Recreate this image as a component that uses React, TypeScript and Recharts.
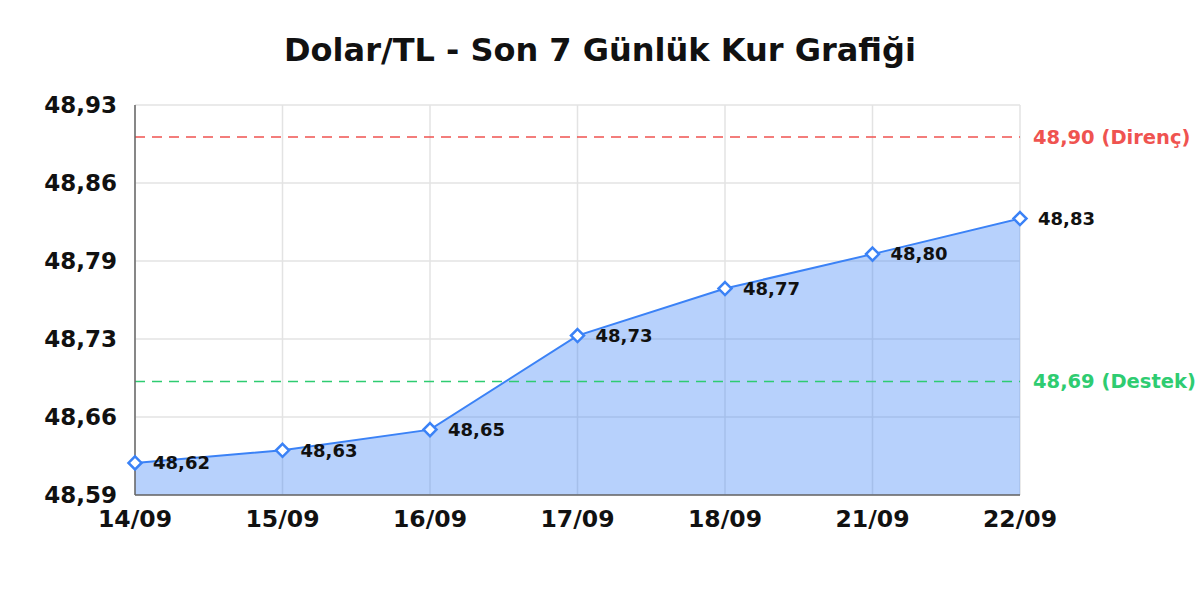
// Dolar/TL 7-day exchange rate chart with resistance/support lines.
import {
  Area,
  AreaChart,
  CartesianGrid,
  LabelList,
  ReferenceLine,
  XAxis,
  YAxis,
} from 'recharts'

const dates = ['14/09', '15/09', '16/09', '17/09', '18/09', '21/09', '22/09']
const rates = [48.618, 48.629, 48.647, 48.729, 48.77, 48.8, 48.831]
const yTicks = [48.59, 48.658, 48.726, 48.794, 48.862, 48.93]
const resistance = 48.902
const support = 48.689

const FONT = '"DejaVu Sans", sans-serif'
const BLUE = '#3b82f6'
const RED = '#ef5350'
const GREEN = '#2ecc71'

const fmt = (v: number) => v.toFixed(2).replace('.', ',')

const data = dates.map((d, i) => ({ date: d, rate: rates[i] }))

function Diamond(props: any) {
  const { cx, cy } = props
  if (cx == null || cy == null) return null
  const r = 6.5
  return (
    <polygon
      points={`${cx},${cy - r} ${cx + r},${cy} ${cx},${cy + r} ${cx - r},${cy}`}
      fill="#fff"
      stroke={BLUE}
      strokeWidth={2.5}
    />
  )
}

function PointLabel(props: any) {
  const { x, y, value } = props
  return (
    <text
      x={x + 18}
      y={y}
      dy="0.35em"
      fontFamily={FONT}
      fontSize={18}
      fontWeight="bold"
      fill="#111"
    >
      {fmt(value)}
    </text>
  )
}

export default function App() {
  return (
    <div style={{ position: 'relative', width: 1200, height: 600, fontFamily: FONT }}>
      <style>{'body{margin:0}'}</style>
      <div
        style={{
          position: 'absolute',
          top: 31,
          left: 0,
          width: 1200,
          textAlign: 'center',
          fontSize: 32,
          fontWeight: 'bold',
          color: '#111',
        }}
      >
        Dolar/TL - Son 7 Günlük Kur Grafiği
      </div>
      <AreaChart
        width={1200}
        height={600}
        data={data}
        margin={{ top: 105, right: 180, bottom: 65, left: 0 }}
      >
        <CartesianGrid stroke="#e3e3e3" strokeWidth={1.5} />
        <XAxis
          dataKey="date"
          height={40}
          tickLine={false}
          tickSize={0}
          tickMargin={15}
          axisLine={{ stroke: '#666', strokeWidth: 1.5 }}
          tick={{ fill: '#111', fontSize: 23.5, fontWeight: 'bold', fontFamily: FONT }}
          interval={0}
        />
        <YAxis
          width={135}
          domain={[48.59, 48.93]}
          ticks={yTicks}
          tickFormatter={fmt}
          tickLine={false}
          tickSize={0}
          tickMargin={18}
          axisLine={{ stroke: '#666', strokeWidth: 1.5 }}
          tick={{ fill: '#111', fontSize: 23, fontWeight: 'bold', fontFamily: FONT }}
          allowDataOverflow
        />
        <ReferenceLine
          y={resistance}
          stroke={RED}
          strokeWidth={1.5}
          strokeDasharray="10 7"
          label={{
            value: `${fmt(resistance)} (Direnç)`,
            position: 'right',
            offset: 13,
            fill: RED,
            fontSize: 19.5,
            fontWeight: 'bold',
            fontFamily: FONT,
          }}
        />
        <ReferenceLine
          y={support}
          stroke={GREEN}
          strokeWidth={1.5}
          strokeDasharray="10 7"
          label={{
            value: `${fmt(support)} (Destek)`,
            position: 'right',
            offset: 13,
            fill: GREEN,
            fontSize: 19.5,
            fontWeight: 'bold',
            fontFamily: FONT,
          }}
        />
        <Area
          type="linear"
          dataKey="rate"
          stroke={BLUE}
          strokeWidth={2}
          fill={BLUE}
          fillOpacity={0.37}
          dot={<Diamond />}
          activeDot={false}
          isAnimationActive={false}
        >
          <LabelList dataKey="rate" content={<PointLabel />} />
        </Area>
      </AreaChart>
    </div>
  )
}
